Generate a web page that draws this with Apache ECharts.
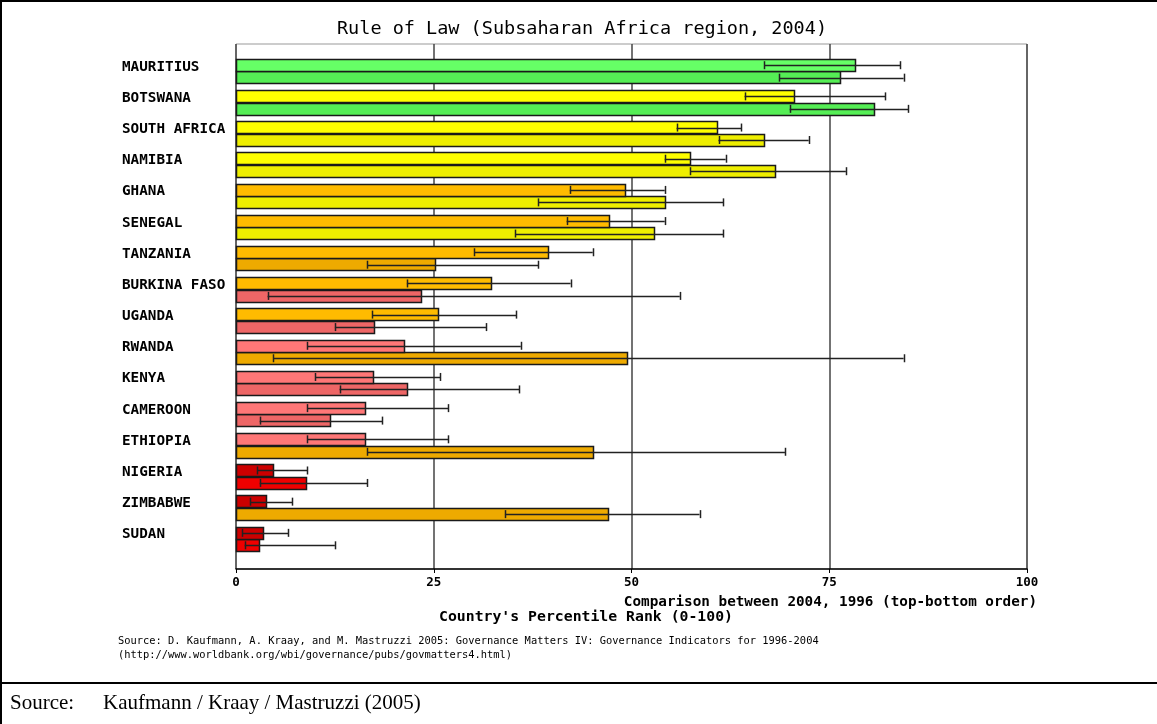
<!DOCTYPE html>
<html>
<head>
<meta charset="utf-8">
<script src="https://cdn.jsdelivr.net/npm/echarts@6/dist/echarts.min.js"></script>
<style>
html,body{margin:0;padding:0;background:#fff;}
#chart{width:1157px;height:724px;}
</style>
</head>
<body>
<div id="chart"></div>
<script>
// ---- data ----
const countries = ['MAURITIUS','BOTSWANA','SOUTH AFRICA','NAMIBIA','GHANA','SENEGAL','TANZANIA','BURKINA FASO','UGANDA','RWANDA','KENYA','CAMEROON','ETHIOPIA','NIGERIA','ZIMBABWE','SUDAN'];
const rank2004 = [78.3,70.5,60.8,57.4,49.2,47.2,39.5,32.3,25.5,21.3,17.3,16.3,16.3,4.7,3.8,3.4];
const low2004  = [66.8,64.3,55.7,54.2,42.2,41.8,30.1,21.6,17.2,9.0,10.0,9.0,9.0,2.7,1.8,0.8];
const high2004 = [84.0,82.1,63.9,61.9,54.2,54.2,45.1,42.3,35.4,36.0,25.8,26.8,26.8,9.0,7.1,6.6];
const rank1996 = [76.4,80.7,66.8,68.1,54.2,52.9,25.1,23.4,17.4,49.4,21.6,11.9,45.1,8.9,47.0,2.9];
const low1996  = [68.7,70.0,61.0,57.4,38.2,35.3,16.6,4.0,12.5,4.7,13.1,3.0,16.6,3.0,34.0,1.1];
const high1996 = [84.4,85.0,72.4,77.1,61.6,61.6,38.2,56.1,31.6,84.4,35.8,18.5,69.4,16.6,58.6,12.5];
const xTicks = [0,25,50,75,100];

const titleText = 'Rule of Law (Subsaharan Africa region, 2004)';
const compareText = 'Comparison between 2004, 1996 (top-bottom order)';
const axisTitle = "Country's Percentile Rank (0-100)";
const note1 = 'Source: D. Kaufmann, A. Kraay, and M. Mastruzzi 2005: Governance Matters IV: Governance Indicators for 1996-2004';
const note2 = '(http://www.worldbank.org/wbi/governance/pubs/govmatters4.html)';
const srcLabel = 'Source:';
const srcText = 'Kaufmann / Kraay / Mastruzzi (2005)';

// ---- styles ----
const pal2004 = ['#CC0000','#FF7777','#FFBB00','#FFFF00','#66FF66'];
const pal1996 = ['#EE0000','#EE6666','#EEAA00','#EEEE00','#55EE55'];
function band(v){ return v < 10 ? 0 : v < 25 ? 1 : v < 50 ? 2 : v < 75 ? 3 : 4; }
const MONO = '"DejaVu Sans Mono", "Liberation Mono", monospace';
const HALF = 0.4;

function makeRender(palette, off0, off1){
  return function(params, api){
    const i = api.value(1), v = api.value(0), lo = api.value(2), hi = api.value(3);
    const a = api.coord([0, i + off0]);
    const b = api.coord([v, i + off1]);
    const yc = (a[1] + b[1]) / 2;
    const xl = api.coord([lo, i])[0];
    const xh = api.coord([hi, i])[0];
    const ycR = Math.round(yc) + 0.5;
    return {
      type: 'group',
      children: [
        { type: 'rect',
          shape: { x: Math.round(a[0]) + 0.5, y: Math.round(Math.min(a[1], b[1])) + 0.5,
                   width: Math.round(b[0] - a[0]), height: Math.round(Math.abs(b[1] - a[1])) },
          style: { fill: palette[band(v)], stroke: '#1a1a1a', lineWidth: 1.5 } },
        { type: 'line', shape: { x1: xl, y1: ycR, x2: xh, y2: ycR },
          style: { stroke: '#222', lineWidth: 1.3 } },
        { type: 'line', shape: { x1: Math.round(xl) + 0.5, y1: yc - 4, x2: Math.round(xl) + 0.5, y2: yc + 4 },
          style: { stroke: '#222', lineWidth: 1.5 } },
        { type: 'line', shape: { x1: Math.round(xh) + 0.5, y1: yc - 4, x2: Math.round(xh) + 0.5, y2: yc + 4 },
          style: { stroke: '#222', lineWidth: 1.5 } }
      ]
    };
  };
}

const data2004 = countries.map((c, i) => [rank2004[i], i, low2004[i], high2004[i]]);
const data1996 = countries.map((c, i) => [rank1996[i], i, low1996[i], high1996[i]]);
const labelData = countries.map((c, i) => [0, i]);

const chart = echarts.init(document.getElementById('chart'), null, { renderer: 'canvas' });
chart.setOption({
  animation: false,
  backgroundColor: '#fff',
  grid: { left: 236, top: 44, width: 791, height: 525, show: true, borderColor: '#999', borderWidth: 1, containLabel: false },
  xAxis: {
    type: 'value', min: 0, max: 100, interval: 25, position: 'bottom',
    axisLine: { show: true, onZero: false, lineStyle: { color: '#000', width: 1.5 } },
    axisTick: { show: true, length: 4, lineStyle: { color: '#000', width: 1 } },
    axisLabel: { color: '#000', fontFamily: MONO, fontWeight: 'bold', fontSize: 12.5, margin: 7,
                 formatter: v => xTicks.indexOf(v) >= 0 ? String(v) : '' },
    splitLine: { show: true, lineStyle: { color: '#444', width: 1.5 } }
  },
  yAxis: {
    type: 'value', inverse: true, min: -0.88, max: 15.96,
    axisLine: { show: false, onZero: false }, axisTick: { show: false }, axisLabel: { show: false }, splitLine: { show: false }
  },
  series: [
    { type: 'custom', name: '2004', data: data2004, encode: { x: [0, 2, 3], y: 1 }, clip: false,
      renderItem: makeRender(pal2004, -HALF, 0), z: 3 },
    { type: 'custom', name: '1996', data: data1996, encode: { x: [0, 2, 3], y: 1 }, clip: false,
      renderItem: makeRender(pal1996, 0, HALF), z: 2 },
    { type: 'custom', name: 'labels', data: labelData, encode: { x: 0, y: 1 }, clip: false,
      renderItem: function(params, api){
        const p = api.coord([0, api.value(1)]);
        return { type: 'text', x: 122, y: p[1] - 4.5,
          style: { text: countries[params.dataIndex], fill: '#000', font: 'bold 14.3px ' + MONO,
                   textAlign: 'left', textVerticalAlign: 'middle' } };
      } }
  ],
  graphic: [
    { type: 'text', x: 582, y: 29, style: { text: titleText, fill: '#000', font: '18.5px ' + MONO, textAlign: 'center', textVerticalAlign: 'middle' } },
    { type: 'text', x: 1037, y: 602, style: { text: compareText, fill: '#000', font: 'bold 14.3px ' + MONO, textAlign: 'right', textVerticalAlign: 'middle' } },
    { type: 'text', x: 586, y: 617, style: { text: axisTitle, fill: '#000', font: 'bold 14.8px ' + MONO, textAlign: 'center', textVerticalAlign: 'middle' } },
    { type: 'text', x: 118, y: 641, style: { text: note1, fill: '#000', font: '10.4px ' + MONO, textAlign: 'left', textVerticalAlign: 'middle' } },
    { type: 'text', x: 118, y: 655, style: { text: note2, fill: '#000', font: '10.4px ' + MONO, textAlign: 'left', textVerticalAlign: 'middle' } },
    { type: 'text', x: 10, y: 703, style: { text: srcLabel, fill: '#000', font: '21px "Liberation Serif", "DejaVu Serif", serif', textAlign: 'left', textVerticalAlign: 'middle' } },
    { type: 'text', x: 103, y: 703, style: { text: srcText, fill: '#000', font: '21px "Liberation Serif", "DejaVu Serif", serif', textAlign: 'left', textVerticalAlign: 'middle' } },
    { type: 'rect', shape: { x: 0, y: 0, width: 1157, height: 2 }, style: { fill: '#000' } },
    { type: 'rect', shape: { x: 0, y: 0, width: 2, height: 724 }, style: { fill: '#000' } },
    { type: 'rect', shape: { x: 0, y: 682, width: 1157, height: 2 }, style: { fill: '#000' } }
  ]
});
</script>
</body>
</html>
